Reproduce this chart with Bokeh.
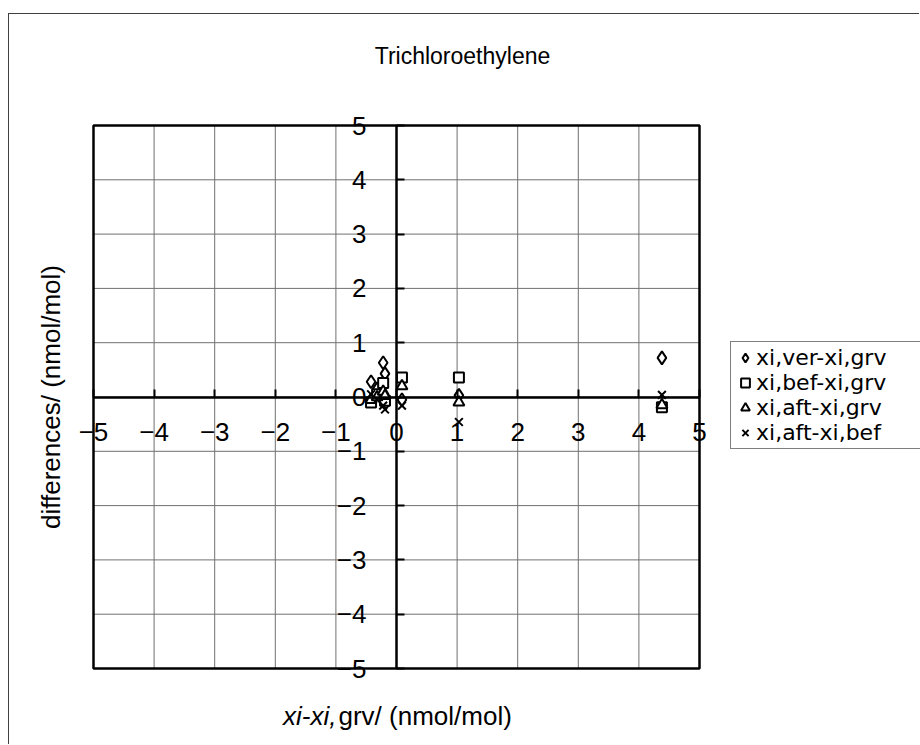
import math
from bokeh.plotting import figure
from bokeh.models import Range1d, FixedTicker, Label, Legend, LegendItem, ColumnDataSource
from bokeh.embed import file_html
from bokeh.resources import INLINE

# ---- data ----
x_diff = [-0.42, -0.32, -0.22, -0.19, 0.09, 1.03, 4.38]
ver_grv = [0.28, 0.15, 0.63, 0.43, -0.05, 0.03, 0.72]
bef_grv = [-0.10, 0.05, 0.26, -0.07, 0.36, 0.36, -0.19]
aft_grv = [-0.05, 0.00, 0.10, 0.02, 0.20, -0.10, -0.15]
aft_bef = [0.05, -0.05, -0.16, -0.23, -0.16, -0.46, 0.04]
series_names = ["xi,ver-xi,grv", "xi,bef-xi,grv", "xi,aft-xi,grv", "xi,aft-xi,bef"]
ticks = [-5, -4, -3, -2, -1, 0, 1, 2, 3, 4, 5]
title_text = "Trichloroethylene"
ytitle_text = "differences/ (nmol/mol)"
xtitle_italic = "xi-xi,"
xtitle_normal = "grv/ (nmol/mol)"

FONT = "'Liberation Sans', Arial, sans-serif"
LEGEND_FONT = "'DejaVu Sans', sans-serif"

# ---- layout geometry (pixels) ----
W, H = 911, 731            # canvas size
PL, PR = 84, 690           # plot-area left/right inside canvas
PT, PB = 111, 654          # plot-area top/bottom inside canvas
lo, hi = ticks[0], ticks[-1]
sx = (PR - PL) / (hi - lo)
sy = (PB - PT) / (hi - lo)
x_range = Range1d(lo - PL / sx, hi + (W - PR) / sx)
y_range = Range1d(lo - (H - PB) / sy, hi + PT / sy)

p = figure(width=W, height=H, output_backend="svg", toolbar_location=None,
           x_range=x_range, y_range=y_range, min_border=0, title_location=None)
p.styles = {"margin-top": "13px", "margin-left": "8px",
            "border-left": "1px solid #404040", "border-top": "1px solid #404040"}
p.background_fill_color = "white"
p.border_fill_color = "white"
p.outline_line_color = None
p.xgrid.visible = False
p.ygrid.visible = False

# grid lines of the plot area
p.segment(x0=ticks, y0=[lo] * len(ticks), x1=ticks, y1=[hi] * len(ticks),
          line_color="#707070", line_width=1)
p.segment(x0=[lo] * len(ticks), y0=ticks, x1=[hi] * len(ticks), y1=ticks,
          line_color="#707070", line_width=1)
# plot-area frame
p.quad(left=[lo], right=[hi], bottom=[lo], top=[hi], fill_color=None,
       line_color="black", line_width=2.5)

for ax in (p.xaxis[0], p.yaxis[0]):
    ax.fixed_location = 0
    ax.bounds = (lo, hi)
    ax.ticker = FixedTicker(ticks=ticks)
    ax.axis_line_color = "black"
    ax.axis_line_width = 2.5
    ax.major_tick_line_color = "black"
    ax.major_tick_line_width = 2
    ax.major_tick_in = 8
    ax.major_tick_out = 0
    ax.minor_tick_line_color = None
    ax.major_label_text_font = FONT
    ax.major_label_text_font_size = "26px"
    ax.major_label_text_color = "black"
p.xaxis[0].major_label_standoff = 26
p.yaxis[0].major_label_standoff = 30

src = ColumnDataSource(dict(x=x_diff, a=ver_grv, b=bef_grv, c=aft_grv, d=aft_bef))
style = dict(line_color="black", line_width=2, fill_color="white")
r1 = p.scatter("x", "a", source=src, marker="diamond", size=13, **style)
r2 = p.scatter("x", "b", source=src, marker="square", size=10, **style)
r3 = p.scatter("x", "c", source=src, marker="triangle", size=11, **style)
r4 = p.scatter("x", "d", source=src, marker="x", size=11, line_color="black", line_width=2)

legend = Legend(items=[LegendItem(label=n, renderers=[r]) for n, r in zip(series_names, [r1, r2, r3, r4])],
                location=(721, 296), border_line_color="black", border_line_width=1,
                background_fill_color="white", background_fill_alpha=1.0,
                label_text_font=LEGEND_FONT, label_text_font_size="22px",
                label_text_color="black",
                glyph_width=22, glyph_height=25, label_height=25, label_standoff=0,
                spacing=0, padding=3, margin=0, label_width=200)
p.add_layout(legend, "center")

p.add_layout(Label(x=0, y=hi, x_offset=66, y_offset=70, text=title_text,
                   text_align="center", text_baseline="middle",
                   text_font=FONT, text_font_size="23px", text_color="black"))
p.add_layout(Label(x=lo, y=0, x_offset=-43, text=ytitle_text, angle=math.pi / 2,
                   text_align="center", text_baseline="middle",
                   text_font=FONT, text_font_size="26px", text_color="black"))
p.add_layout(Label(x=0, y=lo, x_offset=-60, y_offset=-47, text=xtitle_italic,
                   text_align="right", text_baseline="middle", text_font_style="italic",
                   text_font=FONT, text_font_size="26px", text_color="black"))
p.add_layout(Label(x=0, y=lo, x_offset=-58, y_offset=-47, text=xtitle_normal,
                   text_align="left", text_baseline="middle",
                   text_font=FONT, text_font_size="26px", text_color="black"))

open("out.html", "w").write(file_html(p, INLINE))
